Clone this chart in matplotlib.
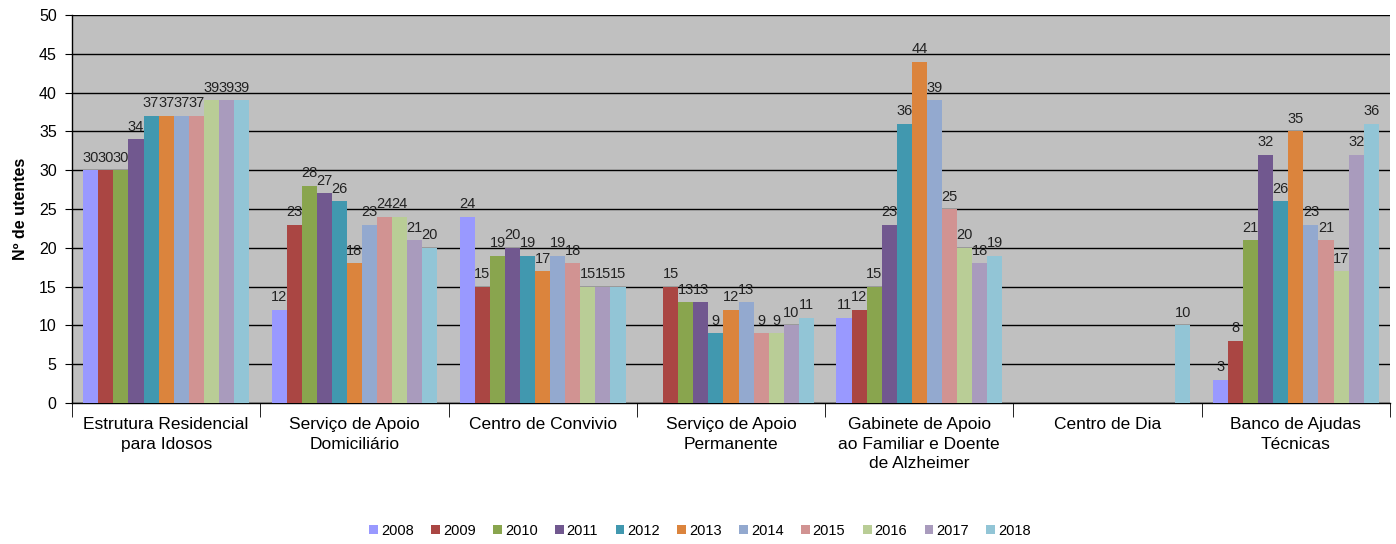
import matplotlib
matplotlib.use("Agg")
import matplotlib.pyplot as plt
import numpy as np

plt.rcParams['font.family'] = ['Liberation Sans', 'DejaVu Sans']

categories = ["Estrutura Residencial\npara Idosos", "Serviço de Apoio\nDomiciliário",
              "Centro de Convivio", "Serviço de Apoio\nPermanente",
              "Gabinete de Apoio\nao Familiar e Doente\nde Alzheimer", "Centro de Dia",
              "Banco de Ajudas\nTécnicas"]
years = ["2008", "2009", "2010", "2011", "2012", "2013", "2014", "2015", "2016", "2017", "2018"]
N = None
values = {
    "2008": [30, 12, 24, N, 11, N, 3],
    "2009": [30, 23, 15, 15, 12, N, 8],
    "2010": [30, 28, 19, 13, 15, N, 21],
    "2011": [34, 27, 20, 13, 23, N, 32],
    "2012": [37, 26, 19, 9, 36, N, 26],
    "2013": [37, 18, 17, 12, 44, N, 35],
    "2014": [37, 23, 19, 13, 39, N, 23],
    "2015": [37, 24, 18, 9, 25, N, 21],
    "2016": [39, 24, 15, 9, 20, N, 17],
    "2017": [39, 21, 15, 10, 18, N, 32],
    "2018": [39, 20, 15, 11, 19, 10, 36],
}
colors = ["#9999FF", "#AA4643", "#89A54E", "#71588F", "#4198AF", "#DB843D",
          "#93A9CF", "#D19392", "#B9CD96", "#A99BBD", "#92C5D6"]

fig = plt.figure(figsize=(13.96, 5.44), dpi=100)
ax = fig.add_axes([72/1396, 1-403/544, (1390-72)/1396, (403-15)/544])
ax.set_facecolor("#C0C0C0")

n = len(years)
bw = 1.0 / (n + 1.5)
x = np.arange(len(categories))
for i, y in enumerate(years):
    vals = values[y]
    xs = [xi + (i - (n - 1) / 2) * bw for xi, v in zip(x, vals) if v is not None]
    vs = [v for v in vals if v is not None]
    ax.bar(xs, vs, width=bw, color=colors[i], label=y, zorder=3)
    for xx, vv in zip(xs, vs):
        ax.text(xx, vv + 0.7, str(vv), ha="center", va="bottom", fontsize=10.5, zorder=4, color="#222222")

ax.set_xlim(-0.5, len(categories) - 0.5)
ax.set_ylim(0, 50)
ax.set_yticks(np.arange(0, 51, 5))
ax.yaxis.grid(True, color="black", linewidth=1.0, zorder=1)
ax.set_axisbelow(True)
for s in ["top", "right"]:
    ax.spines[s].set_visible(False)
ax.spines["left"].set_linewidth(1.0)
ax.spines["bottom"].set_linewidth(1.0)
ax.tick_params(axis="y", labelsize=11.5, length=5, direction="out", pad=6)
ax.set_xticks(x)
ax.set_xticklabels(categories, fontsize=12.5, linespacing=1.4)
ax.tick_params(axis="x", length=0, pad=10)
ax.set_xticks(np.arange(-0.5, len(categories), 1.0), minor=True)
ax.tick_params(axis="x", which="minor", length=10, direction="out")
ax.set_ylabel("Nº de utentes", fontsize=11.5, fontweight="bold", labelpad=8)

leg = fig.legend(loc="center", bbox_to_anchor=(700/1396, 1-531/544), ncol=11, frameon=False,
                 fontsize=10.5, handlelength=0.6, handleheight=0.6, handletextpad=0.2, columnspacing=1.2)

fig.savefig("out.png", dpi=100, facecolor="white")
